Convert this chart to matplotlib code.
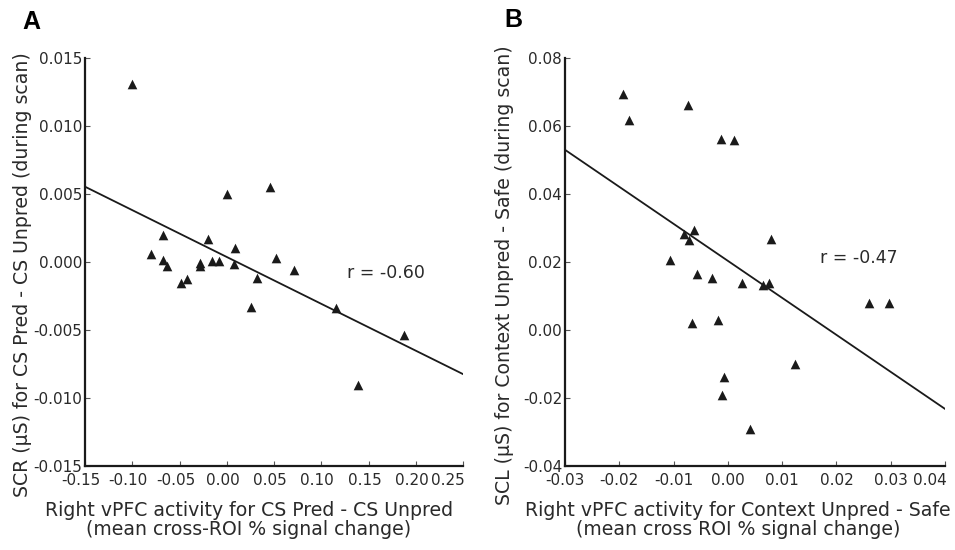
import numpy as np
import matplotlib
matplotlib.use("Agg")
import matplotlib.pyplot as plt
from matplotlib.ticker import FormatStrFormatter
from matplotlib.transforms import ScaledTranslation

# Panel A: CS Pred - CS Unpred
a_x = [-0.100, -0.0675, -0.0805, -0.067, -0.0636, -0.0286, -0.028, -0.0198,
       -0.0153, -0.0085, 0.0006, 0.009, 0.008, 0.0458, 0.0524, 0.0708,
       -0.0484, -0.0424, 0.032, 0.0253, 0.1156, 0.188, 0.1385]
a_y = [0.0131, 0.0020, 0.00059, 0.00015, -0.00027, -0.00005, -0.00027, 0.00167,
       0.0001, 0.0001, 0.00498, 0.0010, -0.00017, 0.00554, 0.00032, -0.00059,
       -0.00157, -0.00125, -0.0012, -0.00333, -0.0034, -0.00537, -0.00904]
a_fit = (-0.03445, 0.00037)  # slope, intercept
a_r = "r = -0.60"

# Panel B: Context Unpred - Safe
b_x = [-0.0194, -0.0183, -0.0074, -0.0012, 0.00105, -0.008, -0.0063, -0.0072,
       0.0079, -0.0106, -0.0056, -0.003, 0.0026, 0.0065, 0.0076, 0.026,
       0.0297, -0.0066, -0.0018, 0.0123, -0.00066, -0.001, 0.004]
b_y = [0.0693, 0.0618, 0.0661, 0.0561, 0.0558, 0.0283, 0.0293, 0.0264,
       0.0267, 0.0207, 0.0164, 0.0154, 0.01385, 0.0132, 0.0137, 0.0080,
       0.0080, 0.00196, 0.0029, -0.0100, -0.0137, -0.0190, -0.0291]
b_fit = (-1.0886, 0.02034)
b_r = "r = -0.47"

plt.rcParams["axes.unicode_minus"] = False
plt.rcParams["font.family"] = ["DejaVu Sans"]

ink = "#1a1a1a"
txt = "#2a2a2a"
fig = plt.figure(figsize=(9.55, 5.5), dpi=100)
ax_a = fig.add_axes([85 / 955, 84 / 550, 378 / 955, 408 / 550])
ax_b = fig.add_axes([565 / 955, 84 / 550, 380 / 955, 408 / 550])

panels = [
    (ax_a, a_x, a_y, a_fit, a_r, (-0.15, 0.25), (-0.015, 0.015),
     np.arange(-0.15, 0.2501, 0.05), np.arange(-0.015, 0.01501, 0.005),
     "%.2f", "%.3f", (0.127, -0.0008),
     "Right vPFC activity for CS Pred - CS Unpred\n(mean cross-ROI % signal change)",
     "SCR (\u03bcS) for CS Pred - CS Unpred (during scan)",
     (0.433, -0.085), (-0.140, 0.468), -4),
    (ax_b, b_x, b_y, b_fit, b_r, (-0.03, 0.04), (-0.04, 0.08),
     np.arange(-0.03, 0.0401, 0.01), np.arange(-0.04, 0.0801, 0.02),
     "%.2f", "%.2f", (0.0169, 0.0211),
     "Right vPFC activity for Context Unpred - Safe\n(mean cross ROI % signal change)",
     "SCL (\u03bcS) for Context Unpred - Safe (during scan)",
     (0.455, -0.085), (-0.134, 0.468), 0),
]

for (ax, xs, ys, fit, rtxt, xlim, ylim, xt, yt, xfmt, yfmt, rpos,
     xlabel, ylabel, xl_pos, yl_pos, shift) in panels:
    ax.scatter(xs, ys, marker="^", s=48, color=ink, linewidths=0, zorder=3)
    lx = np.array(xlim)
    ax.plot(lx, fit[0] * lx + fit[1], color=ink, lw=1.3, zorder=2)
    ax.set_xlim(xlim)
    ax.set_ylim(ylim)
    ax.set_xticks(xt)
    ax.set_yticks(yt)
    ax.xaxis.set_major_formatter(FormatStrFormatter(xfmt))
    ax.yaxis.set_major_formatter(FormatStrFormatter(yfmt))
    for side in ("top", "right"):
        ax.spines[side].set_visible(False)
    for side in ("left", "bottom"):
        ax.spines[side].set_linewidth(1.6)
        ax.spines[side].set_color(ink)
    ax.tick_params(direction="in", length=3.5, width=0.8, color="#555555",
                   labelsize=11, labelcolor=txt)
    ax.tick_params(axis="x", pad=5)
    ax.tick_params(axis="y", pad=2)
    fig.canvas.draw()
    labels = ax.get_xticklabels()
    for lab in labels[:-1]:
        lab.set_transform(lab.get_transform()
                          + ScaledTranslation(shift / 100, 0, fig.dpi_scale_trans))
    # last x tick label sits flush with the axis end
    labels[-1].set_horizontalalignment("right")
    labels[-1].set_transform(labels[-1].get_transform()
                             + ScaledTranslation(0.02, 0, fig.dpi_scale_trans))
    ax.set_xlabel(xlabel, fontsize=13.6, color=txt, linespacing=1.0)
    ax.set_ylabel(ylabel, fontsize=13.6, color=txt)
    ax.xaxis.set_label_coords(*xl_pos)
    ax.yaxis.set_label_coords(*yl_pos)
    ax.text(rpos[0], rpos[1], rtxt, fontsize=12.5, color=txt,
            ha="left", va="center")

fig.text(31 / 955, 1 - 22 / 550, "A", fontsize=18, color="black",
         ha="center", va="center", fontweight="bold",
         family=["Liberation Sans", "DejaVu Sans"])
fig.text(513 / 955, 1 - 20 / 550, "B", fontsize=18, color="black",
         ha="center", va="center", fontweight="bold",
         family=["Liberation Sans", "DejaVu Sans"])

fig.savefig("out.png", dpi=100)
